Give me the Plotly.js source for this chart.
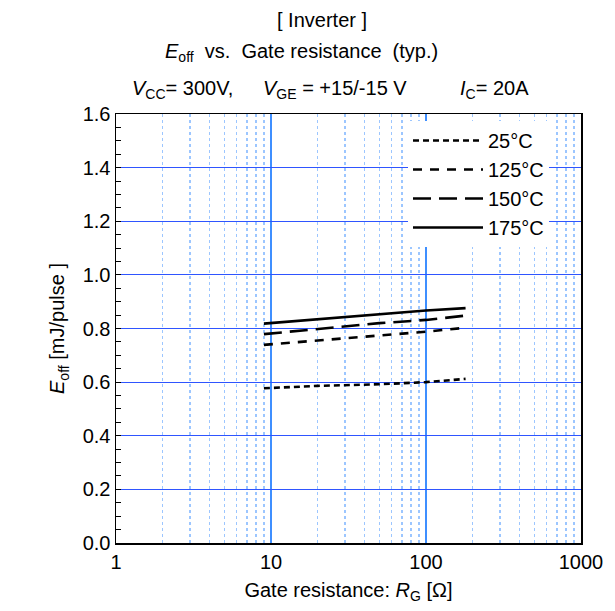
<!DOCTYPE html>
<html>
<head>
<meta charset="utf-8">
<script src="https://cdn.plot.ly/plotly-3.0.1.min.js"></script>
<style>html,body{margin:0;padding:0;background:#fff;}#chart{width:615px;height:611px;}</style>
</head>
<body>
<div id="chart"></div>
<script>
// Data
const rg = [9, 20, 50, 100, 180];
const eoff25 = [0.577, 0.586, 0.592, 0.600, 0.612];
const eoff125 = [0.739, 0.755, 0.776, 0.788, 0.803];
const eoff150 = [0.779, 0.797, 0.820, 0.832, 0.848];
const eoff175 = [0.818, 0.835, 0.853, 0.867, 0.876];
const seriesNames = ['25°C', '125°C', '150°C', '175°C'];

const FONT = 'Arial, "Liberation Sans", sans-serif';
const lw = 2.6;
const traces = [
  {x: rg, y: eoff25, name: seriesNames[0], mode: 'lines', line: {color: '#000', width: lw, dash: '6px,4px'}},
  {x: rg, y: eoff125, name: seriesNames[1], mode: 'lines', line: {color: '#000', width: lw, dash: '9px,8px'}},
  {x: rg, y: eoff150, name: seriesNames[2], mode: 'lines', line: {color: '#000', width: lw, dash: '18px,8px'}},
  {x: rg, y: eoff175, name: seriesNames[3], mode: 'lines', line: {color: '#000', width: lw}}
];

const L = 116, T = 114, W = 465, H = 429;
function px(x) { return (x - L) / W; }
function py(y) { return 1 + (T - y) / H; }

const layout = {
  width: 615, height: 611,
  margin: {l: L, r: 615 - L - W, t: T, b: 611 - T - H},
  paper_bgcolor: '#fff', plot_bgcolor: '#fff',
  font: {family: FONT, size: 20, color: '#000'},
  showlegend: true,
  legend: {
    x: px(408), y: py(121), xanchor: 'left', yanchor: 'top',
    bgcolor: '#fff', borderwidth: 0, font: {family: FONT, size: 20, color: '#000'},
    itemwidth: 70, tracegroupgap: 0
  },
  xaxis: {
    type: 'log', range: [0, 3], dtick: 1,
    showgrid: true, gridcolor: '#3f8fff', gridwidth: 1.5,
    minor: {dtick: 'D1', showgrid: true, gridcolor: '#9cc6ff', griddash: 'dot', gridwidth: 1.2, ticks: ''},
    showline: true, linecolor: '#000', linewidth: 1.5, mirror: true,
    ticks: '', tickfont: {family: FONT, size: 20, color: '#000'},
    zeroline: false,
    title: {text: 'Gate resistance: <i>R</i><sub>G</sub> [Ω]', font: {family: FONT, size: 20, color: '#000'}, standoff: 11}
  },
  yaxis: {
    range: [0, 1.6], dtick: 0.2, tickformat: '.1f',
    showgrid: true, gridcolor: '#2f55ff', gridwidth: 1,
    ticks: 'inside', ticklen: 5, tickcolor: '#000',
    minor: {dtick: 0.05, ticks: 'inside', ticklen: 5, tickcolor: '#000', showgrid: false},
    showline: true, linecolor: '#000', linewidth: 1.5, mirror: true,
    zeroline: false, tickfont: {family: FONT, size: 20, color: '#000'},
    title: {text: '<i>E</i><sub>off</sub> [mJ/pulse ]', font: {family: FONT, size: 20, color: '#000'}, standoff: 12}
  },
  annotations: [
    {xref: 'paper', yref: 'paper', x: px(322), y: py(20), xanchor: 'center', yanchor: 'middle', showarrow: false,
     text: '[ Inverter ]', font: {family: FONT, size: 20, color: '#000'}},
    {xref: 'paper', yref: 'paper', x: px(163), y: py(52), xanchor: 'left', yanchor: 'middle', showarrow: false,
     text: '<i>E</i><sub>off</sub>&nbsp; vs.&nbsp; Gate resistance&nbsp; (typ.)', font: {family: FONT, size: 20, color: '#000'}},
    {xref: 'paper', yref: 'paper', x: px(130), y: py(89), xanchor: 'left', yanchor: 'middle', showarrow: false,
     text: '<i>V</i><sub>CC</sub>= 300V,', font: {family: FONT, size: 20, color: '#000'}},
    {xref: 'paper', yref: 'paper', x: px(261), y: py(89), xanchor: 'left', yanchor: 'middle', showarrow: false,
     text: '<i>V</i><sub>GE</sub> = +15/-15 V', font: {family: FONT, size: 20, color: '#000'}},
    {xref: 'paper', yref: 'paper', x: px(458), y: py(89), xanchor: 'left', yanchor: 'middle', showarrow: false,
     text: '<i>I</i><sub>C</sub>= 20A', font: {family: FONT, size: 20, color: '#000'}}
  ]
};

Plotly.newPlot('chart', traces, layout, {staticPlot: true, displayModeBar: false});
</script>
</body>
</html>
